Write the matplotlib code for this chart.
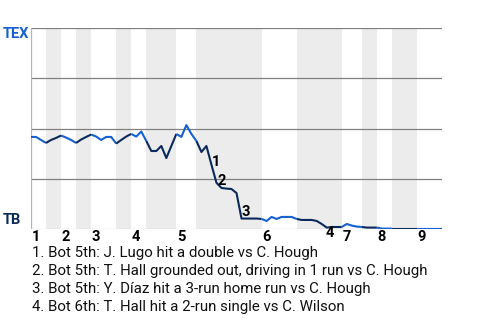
import matplotlib
matplotlib.use("Agg")
import matplotlib.pyplot as plt

plt.rcParams['font.family'] = ['Roboto', 'DejaVu Sans']

# events per half inning (top 1, bot 1, top 2, ...)
half_inning_events = [3, 3, 3, 3, 5, 3, 3, 6, 4, 13, 7, 9, 4, 3, 3, 5, 5]
inning_labels = ['1', '2', '3', '4', '5', '6', '7', '8', '9']

# TEX win probability after each event (0 = start of game)
tex_wp = [45.8, 45.8, 44.3, 42.8, 44.3, 45.3, 46.5, 45.5, 44.3, 42.8,
          44.5, 45.8, 47.0, 46.0, 44.3, 45.8, 45.8, 42.5, 44.3, 46.0,
          47.3, 46.0, 48.5, 43.8, 38.8, 38.8, 41.3, 35.3, 41.3, 47.3,
          45.8, 51.7, 47.3, 43.8, 38.3, 41.3, 32.0, 23.0, 20.4, 20.1,
          19.9, 17.9, 5.2, 5.2, 5.2, 5.2, 5.0, 4.0, 6.0, 5.0,
          6.0, 6.0, 6.0, 5.0, 4.5, 4.5, 4.5, 4.0, 2.5, 0.7,
          1.0, 1.0, 1.0, 2.5, 1.7, 1.2, 1.0, 0.7, 0.7, 0.7,
          0.2, 0.2, 0.2, 0.2, 0.2, 0.2, 0.2, 0.2, 0.2, 0.2,
          0.2, 0.2, 0.2]

key_events = [36, 37, 42, 59]
key_texts = [
    "1. Bot 5th: J. Lugo hit a double vs C. Hough",
    "2. Bot 5th: T. Hall grounded out, driving in 1 run vs C. Hough",
    "3. Bot 5th: Y. Díaz hit a 3-run home run vs C. Hough",
    "4. Bot 6th: T. Hall hit a 2-run single vs C. Wilson",
]

TEX_BLUE = '#1560d2'
TB_NAVY = '#0a2a5c'

fig = plt.figure(figsize=(4.8, 3.2), dpi=100)
ax = fig.add_axes([31 / 480, 1 - 229 / 320, 411 / 480, 201 / 320])

n_events = sum(half_inning_events)
ax.set_xlim(0, n_events)
ax.set_ylim(0, 100)

# shaded bottom halves, coloured line segments
start = 0
for k, n in enumerate(half_inning_events):
    end = start + n
    bottom = k % 2 == 1
    if bottom:
        ax.axvspan(start, end, color='#ececec', lw=0, zorder=0)
    xs = list(range(start, end + 1))
    ax.plot(xs, tex_wp[start:end + 1], color=TB_NAVY if bottom else TEX_BLUE,
            lw=1.5, solid_capstyle='butt', zorder=3)
    if not bottom:
        ax.text(start + 1, -3.9, inning_labels[k // 2], ha='center', va='center',
                fontsize=10.5, fontweight='bold', color='black', clip_on=False)
    start = end

for yv in [25, 50, 75, 100]:
    ax.axhline(yv, color='#808080', lw=0.9, zorder=1)
ax.axhline(0, color='#c8c8c8', lw=0.9, zorder=1)

for s in ax.spines.values():
    s.set_visible(False)
ax.axvline(0, color='#b4b4b4', lw=0.9, zorder=1)
ax.set_xticks([])
ax.set_yticks([])

offsets = [(3, 2), (3.8, 1.4), (3, 4.5), (2.2, -4.0)]
for i, (idx, off) in enumerate(zip(key_events, offsets)):
    ax.annotate(str(i + 1), (idx, tex_wp[idx]), xytext=off, textcoords='offset points',
                ha='center', va='center', fontsize=10.5, fontweight='bold',
                color='black', zorder=5, annotation_clip=False)

fig.text(3 / 480, 1 - 34 / 320, 'TEX', ha='left', va='center', fontsize=10.5,
         fontweight='bold', color=TEX_BLUE)
fig.text(3 / 480, 1 - 220 / 320, 'TB', ha='left', va='center', fontsize=10.5,
         fontweight='bold', color=TB_NAVY)

for j, t in enumerate(key_texts):
    fig.text(32 / 480, 1 - (253.3 + 17.8 * j) / 320, t, ha='left', va='center',
             fontsize=10.8, color='#111111')

fig.savefig('out.png', dpi=100)
